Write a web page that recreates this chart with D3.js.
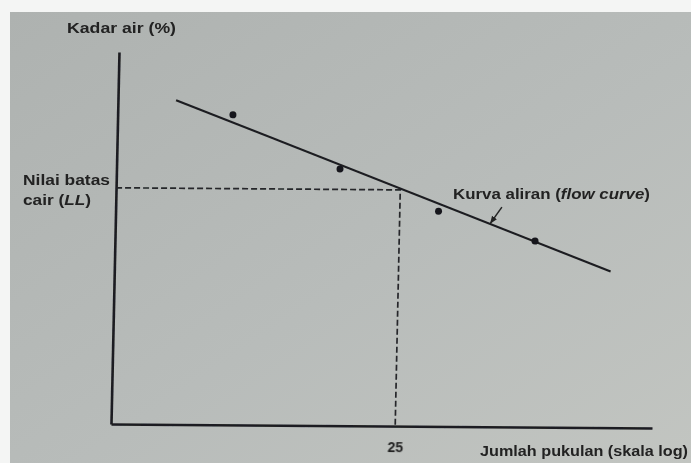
<!DOCTYPE html>
<html>
<head>
<meta charset="utf-8">
<script src="https://cdn.jsdelivr.net/npm/d3@7"></script>
<style>
  html, body { margin: 0; padding: 0; background: #f4f5f4; }
  svg { display: block; }
  text { font-family: "Liberation Sans", Arial, sans-serif; }
</style>
</head>
<body>
<svg id="chart" width="691" height="463"></svg>
<script>
// Liquid-limit test: water content vs. number of blows (log scale)
const testBlows = [12.7, 19.6, 29.2, 43.1];     // jumlah pukulan
const testWater = [50.0, 41.4, 34.7, 30.0];     // kadar air (%)

// flow curve drawn between these two ends
const flowBlows = [10.1, 58.5];
const flowWater = [52.3, 25.2];

const llBlows = 25;          // reference blow count
const llWater = 38.1;        // liquid limit
const xTickValues = [25];
const pointerBlows = 36;     // where the flow-curve label points

const svg = d3.select("#chart");
const W = 691, H = 463;

// paper background
const defs = svg.append("defs");
const grad = defs.append("linearGradient").attr("id", "paper")
  .attr("x1", "0").attr("y1", "0").attr("x2", "1").attr("y2", "1");
grad.append("stop").attr("offset", "0").attr("stop-color", "#aeb2b0");
grad.append("stop").attr("offset", "0.55").attr("stop-color", "#b8bcba");
grad.append("stop").attr("offset", "1").attr("stop-color", "#c2c5c1");
svg.append("rect").attr("width", W).attr("height", H).attr("fill", "#f4f5f4");
svg.append("rect").attr("x", 10).attr("y", 12).attr("width", W - 10).attr("height", H - 12)
  .attr("fill", "url(#paper)");

const soft = defs.append("filter").attr("id", "soft");
soft.append("feGaussianBlur").attr("stdDeviation", 0.45);

const marker = defs.append("marker").attr("id", "tip")
  .attr("viewBox", "0 0 10 10").attr("refX", 9).attr("refY", 5)
  .attr("markerWidth", 5).attr("markerHeight", 5).attr("orient", "auto");
marker.append("path").attr("d", "M0,1 L10,5 L0,9 Z").attr("fill", "#222");

const ink = "#1c1d20";
const plotW = 541, plotH = 372;

const x = d3.scaleLog().domain([8, 70]).range([0, plotW]);
const y = d3.scaleLinear().domain([0, 60]).range([0, -plotH]);

const layer = svg.append("g").attr("filter", "url(#soft)");

// plot origin at the axis corner, with the slight lean of the printed page
const g = layer.append("g")
  .attr("transform", "matrix(1,0.0074,-0.0215,1,111,424)");

// axes
const xAxis = d3.axisBottom(x).tickValues(xTickValues).tickSize(0).tickSizeOuter(0)
  .tickPadding(16).tickFormat(d3.format("d"));
const gx = g.append("g").call(xAxis);
gx.select(".domain").attr("stroke", ink).attr("stroke-width", 2.6);
gx.selectAll("text").attr("fill", "#232323").attr("font-size", 14).attr("font-weight", "bold")
  .attr("font-family", "Liberation Sans, Arial, sans-serif");

const yAxis = d3.axisLeft(y).tickValues([]).tickSize(0).tickSizeOuter(0);
const gy = g.append("g").call(yAxis);
gy.select(".domain").attr("stroke", ink).attr("stroke-width", 2.6);

// liquid-limit guide lines
g.append("path")
  .attr("d", d3.line()([[x.range()[0], y(llWater)], [x(llBlows), y(llWater)], [x(llBlows), y(0)]]))
  .attr("fill", "none").attr("stroke", "#25262a").attr("stroke-width", 1.7)
  .attr("stroke-dasharray", "6,3");

// flow curve
const flowPts = flowBlows.map((b, i) => [x(b), y(flowWater[i])]);
g.append("path").attr("d", d3.line()(flowPts))
  .attr("fill", "none").attr("stroke", ink).attr("stroke-width", 2.1);

// test points
g.selectAll("circle.pt").data(testBlows).join("circle").attr("class", "pt")
  .attr("cx", d => x(d)).attr("cy", (d, i) => y(testWater[i]))
  .attr("r", 3.5).attr("fill", "#18181e");

// pointer to the flow curve
const t = (Math.log10(pointerBlows) - Math.log10(flowBlows[0])) /
          (Math.log10(flowBlows[1]) - Math.log10(flowBlows[0]));
const pw = flowWater[0] + t * (flowWater[1] - flowWater[0]);
const px = x(pointerBlows), py = y(pw);
g.append("line").attr("x1", px + 11).attr("y1", py - 17).attr("x2", px).attr("y2", py - 1)
  .attr("stroke", "#222").attr("stroke-width", 1.5).attr("marker-end", "url(#tip)");

// labels
const txt = "#232323";
function label(xp, yp, len, parts) {
  const el = layer.append("text").attr("x", xp).attr("y", yp)
    .attr("font-size", 15).attr("font-weight", "bold").attr("fill", txt)
    .attr("textLength", len).attr("lengthAdjust", "spacingAndGlyphs");
  parts.forEach(p => el.append("tspan").attr("font-style", p[1] ? "italic" : "normal").text(p[0]));
  return el;
}
label(67, 33, 109, [["Kadar air (%)", false]]);
label(23, 185, 87, [["Nilai batas", false]]);
label(23, 205, 68, [["cair (", false], ["LL", true], [")", false]]);
label(453, 199, 197, [["Kurva aliran (", false], ["flow curve", true], [")", false]]);
label(480, 456, 208, [["Jumlah pukulan (skala log)", false]]);
</script>
</body>
</html>
